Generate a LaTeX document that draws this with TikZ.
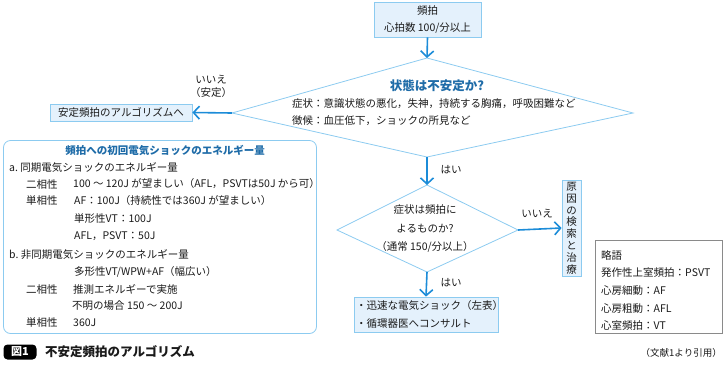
\documentclass[tikz,border=0pt]{standalone}
\usepackage{fontspec}
\setmainfont{Noto Sans CJK JP}
\usetikzlibrary{arrows.meta}
\definecolor{bfill}{HTML}{E4F1FC}
\definecolor{bline}{HTML}{8CCBF0}
\definecolor{arrc}{HTML}{1C8CD8}
\definecolor{titc}{HTML}{1F6CA8}
\definecolor{gline}{HTML}{8A8A8A}
\definecolor{txt}{HTML}{1A1A1A}
\begin{document}
\begin{tikzpicture}[x=1pt,y=-1pt,
  every node/.style={text=txt, font=\fontsize{10.5}{12}\selectfont, inner sep=0pt},
  bluebox/.style={draw=bline, fill=bfill, line width=0.8pt},
  dline/.style={draw=bline, line width=0.8pt},
  arr/.style={draw=arrc, line width=1.6pt, -{Straight Barb[length=6pt,width=13pt,line width=1.6pt]}},
  ln/.style={anchor=west},
  qtitle/.style={text=titc, font=\fontsize{12.5}{14}\bfseries\selectfont}
]
\useasboundingbox (0,0) rectangle (725,365);

% top box
\node[bluebox, minimum width=107pt, minimum height=35pt] (top) at (427.5,19.5) {};
\node (t1) at (427.5,11) {頻拍};
\node (t2) at (427.5,28.5) {心拍数 100/分以上};

% diamond 1
\coordinate (d1t) at (427,58);
\coordinate (d1r) at (633,113);
\coordinate (d1b) at (427,157);
\coordinate (d1l) at (232,113);
\draw[dline] (d1t) -- (d1r) -- (d1b) -- (d1l) -- cycle;
\node[qtitle] (q1) at (437,86) {状態は不安定か?};
\node[ln] (s1) at (292,104) {症状：意識状態の悪化，失神，持続する胸痛，呼吸困難など};
\node[ln] (s2) at (292,121) {徴候：血圧低下，ショックの所見など};
\draw[arr] (top.south) -- (d1t);

% stable
\node[bluebox, minimum width=142pt, minimum height=17pt] (stable) at (121,112.5) {安定頻拍のアルゴリズムへ};
\draw[arr] (d1l) -- (stable.east);
\node[align=center, font=\fontsize{10.5}{13}\selectfont] (no1) at (211,86.5) {いいえ\\（安定）};

% energy box
\node[draw=bline, line width=0.8pt, rounded corners=7pt, minimum width=313pt, minimum height=193pt] (energy) at (160,237) {};
\node[text=titc, font=\fontsize{10.5}{12}\bfseries\selectfont] (et) at (165,150) {頻拍への初回電気ショックのエネルギー量};
\node[ln] (e1) at (9,167) {a.\ 同期電気ショックのエネルギー量};
\node[ln] (e2a) at (26,184) {二相性};
\node[ln] (e2b) at (73,184) {100 ～ 120J が望ましい（AFL，PSVTは50J から可）};
\node[ln] (e3a) at (26,201) {単相性};
\node[ln] (e3b) at (74,201) {AF：100J（持続性では360J が望ましい）};
\node[ln] (e4) at (74,219) {単形性VT：100J};
\node[ln] (e5) at (74,236) {AFL，PSVT：50J};
\node[ln] (e6) at (9,254) {b.\ 非同期電気ショックのエネルギー量};
\node[ln] (e7) at (74,272) {多形性VT/WPW+AF（幅広い）};
\node[ln] (e8a) at (26,289) {二相性};
\node[ln] (e8b) at (73,289) {推測エネルギーで実施};
\node[ln] (e9) at (72,306) {不明の場合 150 ～ 200J};
\node[ln] (e10a) at (26,323) {単相性};
\node[ln] (e10b) at (73,323) {360J};

% diamond 2
\coordinate (d2t) at (427,185);
\coordinate (d2r) at (518,230);
\coordinate (d2b) at (427,272);
\coordinate (d2l) at (337,230);
\draw[dline] (d2t) -- (d2r) -- (d2b) -- (d2l) -- cycle;
\node[align=center, font=\fontsize{10.5}{18.5}\selectfont] (q2) at (425,229) {症状は頻拍に\\よるものか?\\（通常 150/分以上）};
\draw[arr] (d1b) -- (d2t);
\node (yes1) at (451,170) {はい};

% cause box
\node[bluebox, minimum width=19pt, minimum height=96pt] (cause) at (571.5,228) {};
\node[align=center, font=\fontsize{10.5}{11.8}\selectfont] (causet) at (571.5,228) {原\\因\\の\\検\\索\\と\\治\\療};
\draw[arr] (d2r) -- (cause.west);
\node (no2) at (537,214) {いいえ};

% action box
\node[bluebox, minimum width=144pt, minimum height=35pt] (act) at (426,314.5) {};
\node[ln] (a1) at (356,305.5) {・迅速な電気ショック（左表）};
\node[ln] (a2) at (356,323.5) {・循環器医へコンサルト};
\draw[arr] (d2b) -- (act.north);
\node (yes2) at (451,283) {はい};

% abbreviations
\node[draw=gline, line width=0.8pt, fill=white, minimum width=127pt, minimum height=93pt] (abbr) at (658.5,286.5) {};
\node[ln] (b1) at (601,255) {略語};
\node[ln] (b2) at (601,273) {発作性上室頻拍：PSVT};
\node[ln] (b3) at (601,291) {心房細動：AF};
\node[ln] (b4) at (601,309) {心房粗動：AFL};
\node[ln] (b5) at (601,326) {心室頻拍：VT};

% caption
\node[fill=black, rounded corners=4pt, minimum width=33pt, minimum height=15pt, text=white, font=\fontsize{11}{12}\bfseries\selectfont] (fig) at (20,352) {図1};
\node[ln, font=\fontsize{12.5}{14}\bfseries\selectfont] (cap) at (45,352) {不安定頻拍のアルゴリズム};
\node[anchor=east, font=\fontsize{9.5}{12}\selectfont] (src) at (722,353) {（文献1より引用）};
\end{tikzpicture}
\end{document}
